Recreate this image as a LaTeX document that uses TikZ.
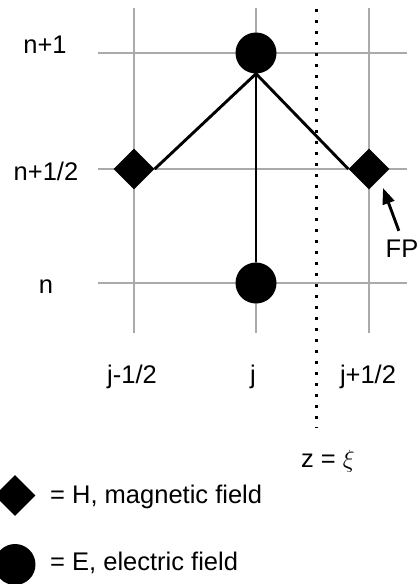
\documentclass[tikz,border=0pt]{standalone}
\usepackage{fontspec}
\setmainfont{Liberation Sans}
\usetikzlibrary{shapes.geometric,arrows.meta}
\providecommand{\Rule}{AAAAAA}
\providecommand{\Ink}{000000}
\newcommand{\Unit}{1pt}
\newcommand{\Edge}{2.9pt}
\newcommand{\Mark}{41}
\definecolor{rule}{HTML}{\Rule}
\definecolor{ink}{HTML}{\Ink}

\begin{document}
\begin{tikzpicture}[x=\Unit,y=-\Unit, line join=round,
    efield/.style={circle,fill=ink,inner sep=0pt,minimum size=\Mark},
    hfield/.style={diamond,fill=ink,inner sep=0pt,minimum size=\Mark},
    lbl/.style={font=\fontsize{25.5}{30}\selectfont,inner sep=0pt,anchor=base},
    link/.style={ink,line width=\Edge},
    gridline/.style={rule,line width=1.3pt}]

  \useasboundingbox (0,0) rectangle (419,584);

  % ---- grid, behind everything --------------------------------------------
  \foreach \x in {134,256,369} {
    \draw[gridline] (\x,8) -- (\x,333);
  }
  \foreach \y in {53,169,283} {
    \draw[gridline] (98,\y) -- (407,\y);
  }

  % ---- the plane z = xi ---------------------------------------------------
  \draw[ink,line width=3pt,dash pattern=on 3pt off 8pt] (316,9) -- (316,428);
  \node[lbl] (zxi) at (328,467) {z = $\xi$};

  % ---- field points -------------------------------------------------------
  \node[efield] (Etop)   at (256,53)  {};
  \node[efield] (Ebot)   at (256,283) {};
  \node[hfield] (Hleft)  at (134,169) {};
  \node[hfield] (Hright) at (369,169) {};

  \draw[link] (Etop.south) -- (Hleft.east);
  \draw[link] (Etop.south) -- (Hright.west);
  \draw[link] (Etop.south) -- (Ebot.north);

  % FP marks the right-hand H point.
  \node[lbl] (fp) at (402,257) {FP};
  \coordinate (fptip) at (383,188);
  \draw[link,shorten <=9pt,-{Triangle[length=16pt,width=12pt]}] (fp.north) -- (fptip);

  % ---- axis labels --------------------------------------------------------
  \node[lbl] (tn1)  at (45,53)  {n+1};
  \node[lbl] (tnh)  at (46,180) {n+1/2};
  \node[lbl] (tn)   at (46,293) {n};
  \node[lbl] (zjm)  at (132,383) {j-1/2};
  \node[lbl] (zj)   at (253,383) {j};
  \node[lbl] (zjp)  at (368,383) {j+1/2};

  % ---- legend -------------------------------------------------------------
  \node[hfield] (keyH) at (15,495.5) {};
  \node[efield] (keyE) at (15,564.5) {};
  \node[lbl,anchor=base west] (keyHtxt) at (50,503) {= H, magnetic field};
  \node[lbl,anchor=base west] (keyEtxt) at (50,570) {= E, electric field};

\end{tikzpicture}
\end{document}
